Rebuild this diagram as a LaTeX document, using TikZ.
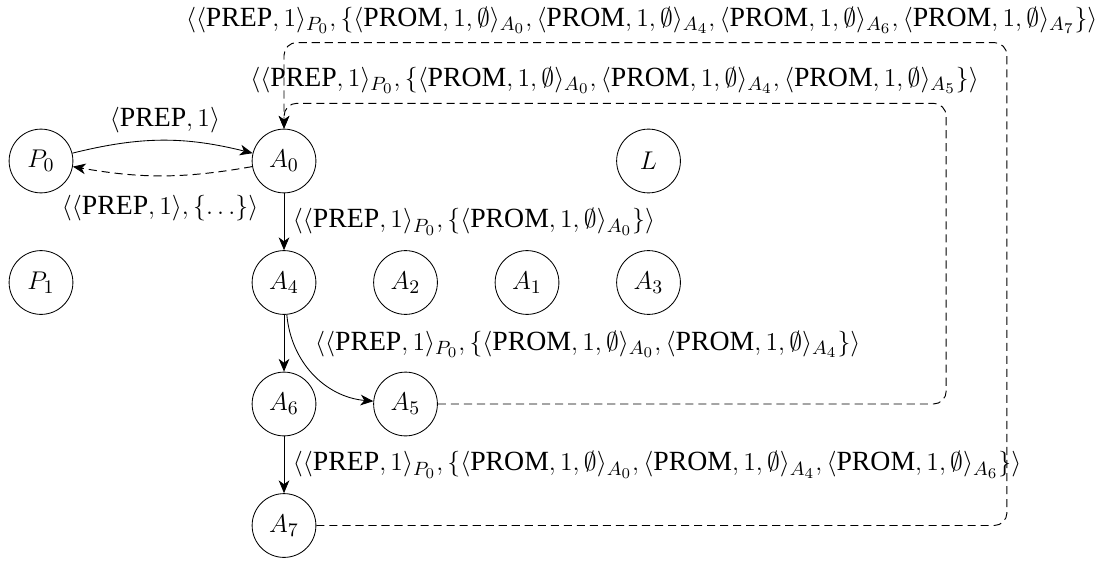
\documentclass[tikz,border=0pt,12pt]{standalone}
\usepackage{amsmath}
\usepackage[no-math]{fontspec}
\setmainfont{Liberation Serif}
\usetikzlibrary{arrows.meta}
\DeclareMathSizes{13}{13}{9}{7}

\newcommand{\prepv}{\langle\text{PREP},1\rangle}
\newcommand{\promv}[1]{\langle\text{PROM},1,\emptyset\rangle_{A_{#1}}}

\begin{document}
\begin{tikzpicture}[
  font=\fontsize{13pt}{15.5pt}\selectfont,
  state/.style={circle,draw,minimum size=1.05cm,inner sep=0pt},
  tip/.style={-{Stealth[length=6pt,width=5pt,inset=1.8pt]}},
  msg/.style={tip},
  reply/.style={tip,dash pattern=on 3.8pt off 2.3pt,draw=black,line width=0.45pt},
  back/.style={reply,rounded corners=6pt},
]
\useasboundingbox (-0.675,-6.568) rectangle (17.596,2.650);

% processes and acceptors
\node[state] (P0) at (0,0)   {$P_0$};
\node[state] (A0) at (4,0)   {$A_0$};
\node[state] (L)  at (10,0)  {$L$};
\node[state] (P1) at (0,-2)  {$P_1$};
\node[state] (A4) at (4,-2)  {$A_4$};
\node[state] (A2) at (6,-2)  {$A_2$};
\node[state] (A1) at (8,-2)  {$A_1$};
\node[state] (A3) at (10,-2) {$A_3$};
\node[state] (A6) at (4,-4)  {$A_6$};
\node[state] (A5) at (6,-4)  {$A_5$};
\node[state] (A7) at (4,-6)  {$A_7$};

% turning points of the return paths
\coordinate (r5) at (14.9,-4);
\coordinate (t5) at (14.9,0.95);
\coordinate (u5) at (4,0.95);
\coordinate (r7) at (15.9,-6);
\coordinate (t7) at (15.9,1.95);
\coordinate (u7) at (4,1.95);

% prepare request and its reply
\draw[msg] (P0) to[bend left=14] (A0);
\draw[reply] (A0) to[bend left=10] (P0);
\node (mpre) at (2.04,0.68) {$\prepv$};
\node (mrep) at (1.96,-0.78) {$\langle\prepv,\{\ldots\}\rangle$};

% forwarding chain
\draw[msg] (A0) -- node[right] {$\langle\prepv_{P_0},\{\promv{0}\}\rangle$} (A4);
\draw[msg] (A4) -- (A6);
\draw[msg] (A4) to[bend right=40] (A5);
\draw[msg] (A6) -- node[right] {$\langle\prepv_{P_0},\{\promv{0},\promv{4},\promv{6}\}\rangle$} (A7);
\node[anchor=west] (m45) at (4.365,-3.02) {$\langle\prepv_{P_0},\{\promv{0},\promv{4}\}\rangle$};

% returns to A0
\draw[back] (A5) -- (r5) -- (t5) -- (u5) -- (A0);
\draw[back] (A7) -- (r7) -- (t7) -- (u7) -- (A0);
\node[anchor=west] (m5) at (3.30,1.33) {$\langle\prepv_{P_0},\{\promv{0},\promv{4},\promv{5}\}\rangle$};
\node[anchor=west] (m7) at (2.24,2.32) {$\langle\prepv_{P_0},\{\promv{0},\promv{4},\promv{6},\promv{7}\}\rangle$};
\end{tikzpicture}
\end{document}
